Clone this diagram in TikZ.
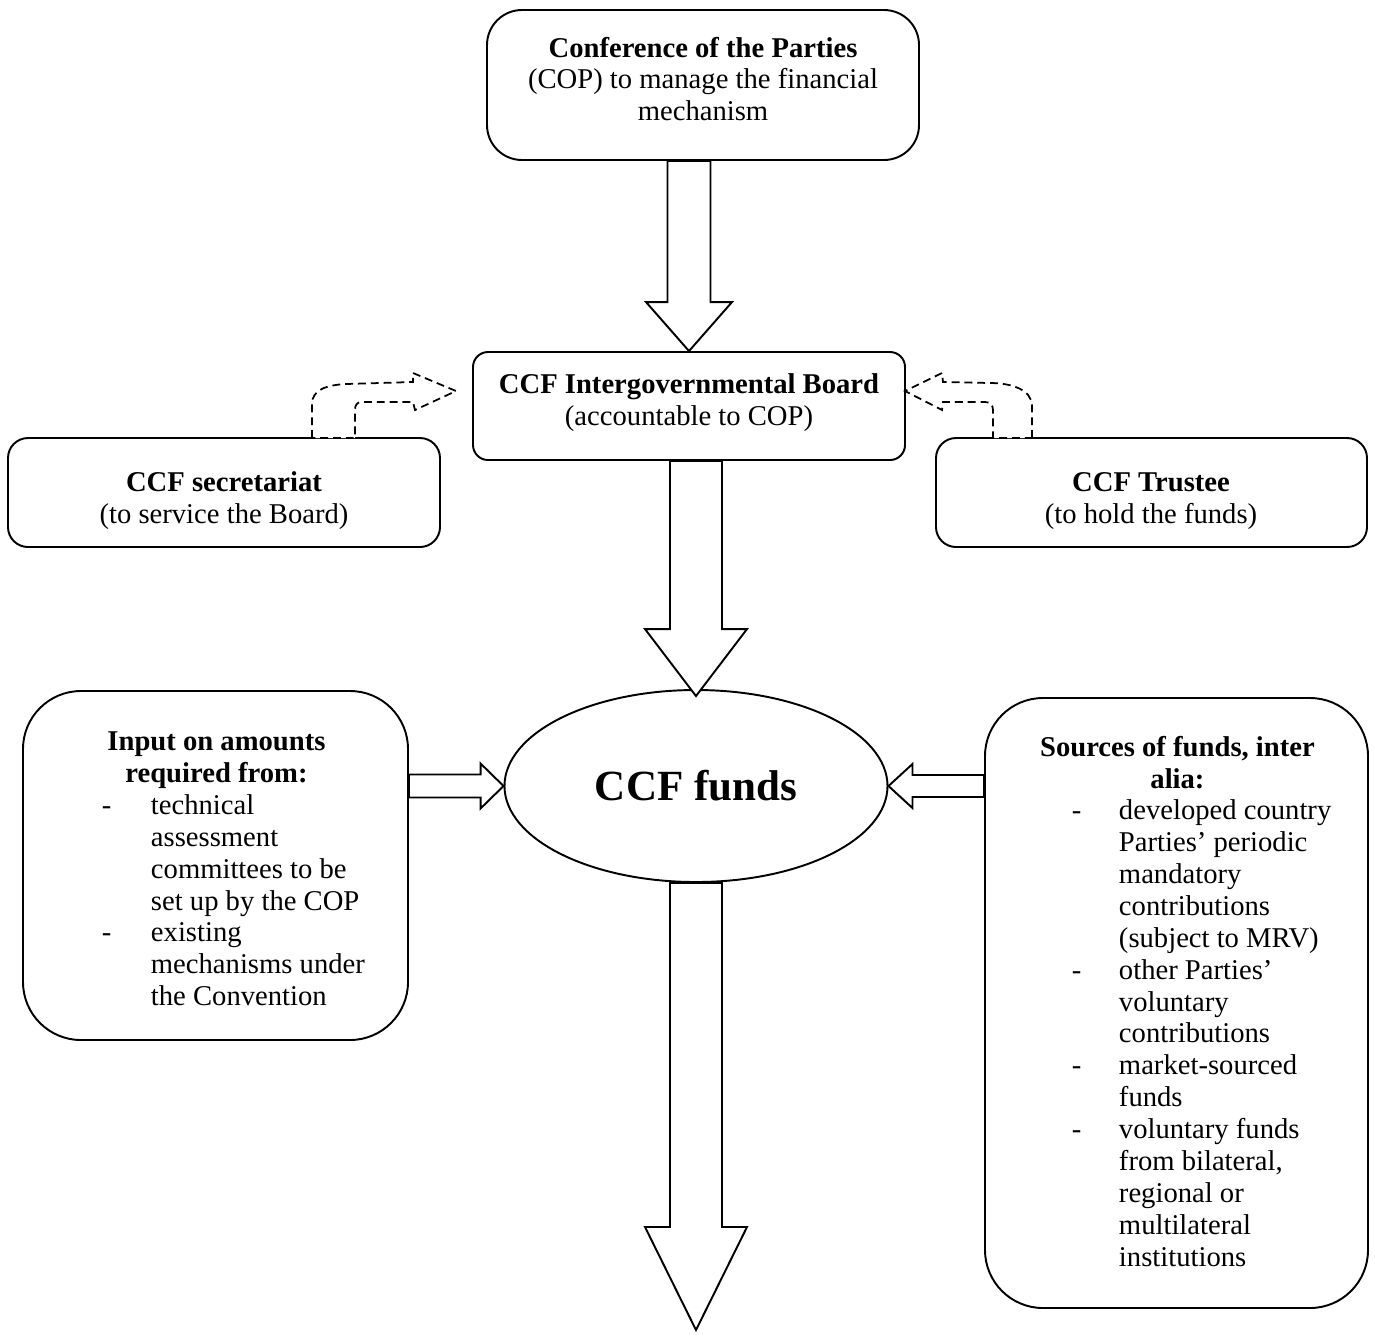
\documentclass[tikz,border=0pt]{standalone}
\usepackage{fontspec}
\setmainfont{Liberation Serif}
\usetikzlibrary{calc,fit,shapes.geometric}
\newlength\PX \setlength\PX{0.02cm}
\newcommand\vblk[5]{% start, tip, half shaft, half head, head length
  \draw[blk] ($#1+({-1*(#3)},0)$) -- ($#2+({-1*(#3)},{-1*(#5)})$) -- ($#2+({-1*(#4)},{-1*(#5)})$) -- #2
   -- ($#2+(#4,{-1*(#5)})$) -- ($#2+(#3,{-1*(#5)})$) -- ($#1+(#3,0)$) -- cycle;}
\newcommand\hblk[5]{% start, tip, half shaft, half head, head length (signed)
  \draw[blk] ($#1+(0,{-1*(#3)})$) -- ($#2+({-1*(#5)},{-1*(#3)})$) -- ($#2+({-1*(#5)},{-1*(#4)})$) -- #2
   -- ($#2+({-1*(#5)},#4)$) -- ($#2+({-1*(#5)},#3)$) -- ($#1+(0,#3)$) -- cycle;}
% list line helpers
\newcommand\LH[1]{\makebox[385\PX]{\textbf{#1}}}
\newcommand\LD[1]{\hspace*{78\PX}\makebox[49\PX][l]{-}#1}
\newcommand\LT[1]{\hspace*{127\PX}#1}
\newcommand\RH[1]{\makebox[383\PX]{\textbf{#1}}}
\newcommand\RD[1]{\hspace*{86\PX}\makebox[47\PX][l]{-}#1}
\newcommand\RT[1]{\hspace*{133\PX}#1}
\begin{document}
\begin{tikzpicture}[x=0.02cm,y=-0.02cm, line width=1.1pt,
  bx/.style={draw, inner sep=0pt},
  txt/.style={font=\fontsize{16.3}{18.14}\selectfont, align=center, inner sep=0pt},
  lst/.style={font=\fontsize{16.3}{18.14}\selectfont, align=left, inner sep=0pt, anchor=north west},
  blk/.style={draw, fill=white, line join=miter},
  dsh/.style={draw, fill=white, dash pattern=on 4.5pt off 2.8pt, line width=1pt}]

\useasboundingbox (0,0) rectangle (1375,1340);

% boxes
\node[bx, rounded corners=35\PX, fit={(487,10) (919,160)}] (cop) {};
\node[bx, rounded corners=15\PX, fit={(473,352) (905,460)}] (board) {};
\node[bx, rounded corners=20\PX, fit={(8,438) (440,547)}] (sec) {};
\node[bx, rounded corners=20\PX, fit={(936,438) (1367,547)}] (trustee) {};
\node[bx, rounded corners=58\PX, fit={(23,691) (408,1040)}] (input) {};
\node[bx, rounded corners=58\PX, fit={(985,698) (1368,1308)}] (sources) {};
\node[draw, ellipse, minimum width=383\PX, minimum height=192\PX, inner sep=0pt,
      font=\bfseries\fontsize{24.5}{29}\selectfont] (funds) at (696,786) {CCF funds};

% texts
\node[txt] (copT) at (703,79) {\textbf{Conference of the Parties}\\(COP) to manage the financial\\mechanism};
\node[txt] (boardT) at (689,403) {\textbf{CCF Intergovernmental Board}\\(accountable to COP)};
\node[txt] (secT) at (224,501) {\textbf{CCF secretariat}\\(to service the Board)};
\node[txt] (trT) at (1151,501) {\textbf{CCF Trustee}\\(to hold the funds)};

\node[lst] (inputT) at (23,731) {%
  \LH{Input on amounts}\\\LH{required from:}\\
  \LD{technical}\\\LT{assessment}\\\LT{committees to be}\\\LT{set up by the COP}\\
  \LD{existing}\\\LT{mechanisms under}\\\LT{the Convention}};

\node[lst] (sourcesT) at (985,735) {%
  \RH{Sources of funds, inter}\\\RH{alia:}\\
  \RD{developed country}\\\RT{Parties’ periodic}\\\RT{mandatory}\\\RT{contributions}\\\RT{(subject to MRV)}\\
  \RD{other Parties’}\\\RT{voluntary}\\\RT{contributions}\\
  \RD{market-sourced}\\\RT{funds}\\
  \RD{voluntary funds}\\\RT{from bilateral,}\\\RT{regional or}\\\RT{multilateral}\\\RT{institutions}};

% block arrows
\coordinate (a1s) at (board.north |- cop.south);
\vblk{(a1s)}{(board.north)}{21.5}{43}{49}
\coordinate (a2s) at (funds.north |- board.south);
\coordinate (a2t) at ($(funds.north)+(0,7)$);
\vblk{(a2s)}{(a2t)}{26}{51}{67}
\coordinate (out) at (696,1330);
\vblk{(funds.south)}{(out)}{26}{51}{103}
\coordinate (a3s) at (input.east |- funds.west);
\hblk{(a3s)}{(funds.west)}{11.5}{22.5}{23}
\coordinate (a4s) at (sources.west |- funds.east);
\hblk{(a4s)}{(funds.east)}{11}{22}{-24}

% dashed bent arrows
\draw[dsh] (312,438) -- (312,404) .. controls (312,390) and (326,385) .. (346,384) -- (413,382)
  -- (413,373) -- (456,391) -- (415,410) -- (413,402) -- (362,402)
  .. controls (357,402) and (355,405) .. (355,410) -- (355,438) -- cycle;
\draw[dsh] (1032,438) -- (1032,406) .. controls (1032,389) and (1010,383) .. (990,383) -- (943,382)
  -- (942,373) -- (905,391) -- (942,410) -- (943,402) -- (985,402)
  .. controls (990,402) and (993,405) .. (993,410) -- (993,438) -- cycle;
\end{tikzpicture}
\end{document}
